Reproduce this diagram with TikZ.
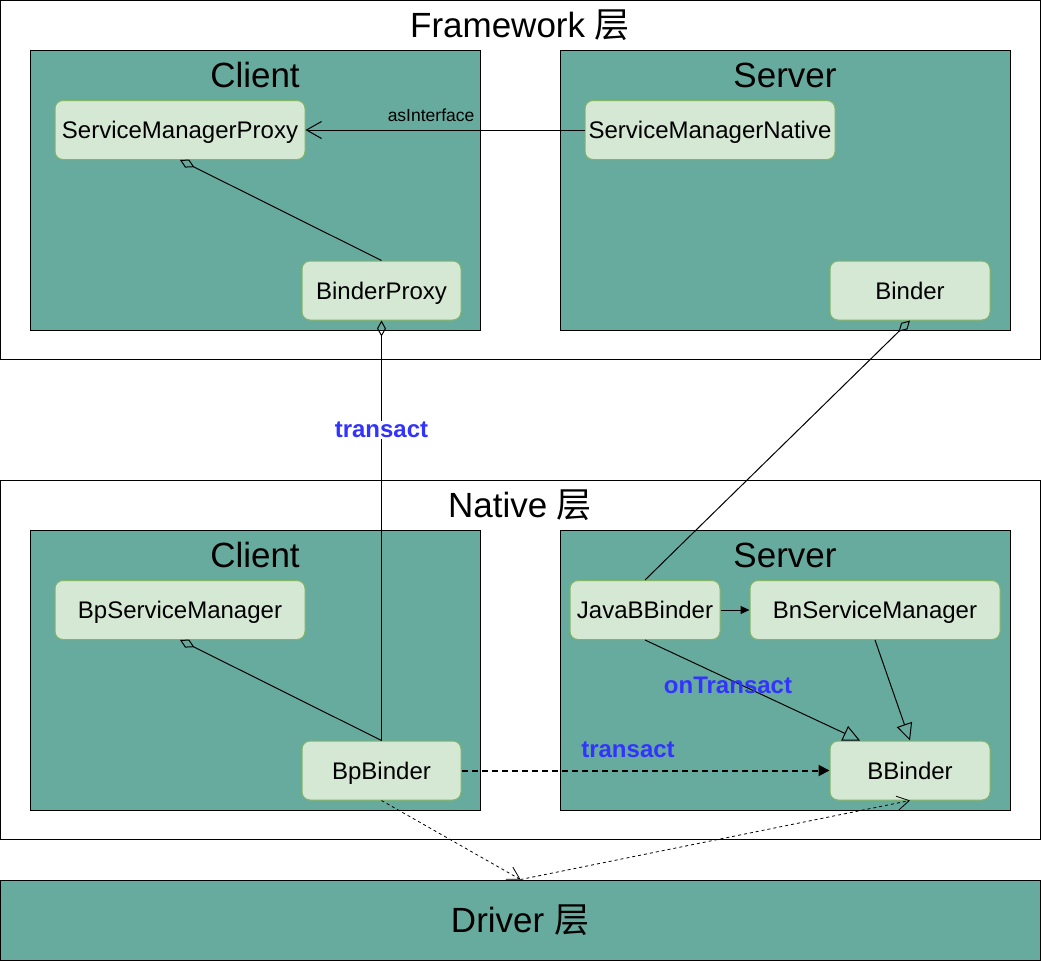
\documentclass[tikz,border=0pt]{standalone}
\usepackage{fontspec}
\setmainfont{Liberation Sans}
\newfontfamily\cjk{Noto Sans CJK SC}
\usetikzlibrary{arrows.meta,calc}
\definecolor{tealfill}{HTML}{67AB9F}
\definecolor{nfill}{HTML}{D5E8D4}
\definecolor{nline}{HTML}{82B366}
\definecolor{lblue}{HTML}{3333FF}
\begin{document}
\begin{tikzpicture}[x=1pt,y=-1pt,
  layer/.style={draw=black,line width=1pt,fill=white,inner sep=0pt},
  frame/.style={draw=black,line width=1pt,fill=tealfill,inner sep=0pt,minimum width=450pt,minimum height=280pt},
  title/.style={font=\fontsize{35}{40}\selectfont,inner sep=0pt},
  cls/.style={draw=nline,line width=1pt,fill=nfill,rounded corners=8pt,minimum height=59pt,inner sep=0pt,
    text height=21pt,text depth=4pt,font=\fontsize{24}{28}\selectfont},
  conn/.style={line width=1pt,black},
  openarrow/.style={conn,-{Straight Barb[length=15pt,width=17pt,line width=1pt]}},
  dia/.style={conn,-{Diamond[open,length=16pt,width=9pt,line width=1pt]}},
  inh/.style={conn,-{Triangle[open,length=17pt,width=16pt,line width=1pt]}},
  blab/.style={font=\fontsize{24}{28}\selectfont\bfseries,text=lblue,inner sep=1pt}
]
\useasboundingbox (0,0) rectangle (1041,961);

% Framework layer
\node[layer,minimum width=1040pt,minimum height=359pt] (fw) at (520.5,180) {};
\node[title] (fwt) at (520,25) {Framework {\cjk 层}};
\node[frame] (fwc) at (255,190) {};
\node[title] (fwct) at (255,75) {Client};
\node[frame] (fws) at (785,190) {};
\node[title] (fwst) at (785,75) {Server};

% Native layer
\node[layer,minimum width=1040pt,minimum height=359pt] (nt) at (520.5,660) {};
\node[title] (ntt) at (520,505) {Native {\cjk 层}};
\node[frame] (ntc) at (255,670) {};
\node[title] (ntct) at (255,555) {Client};
\node[frame] (nts) at (785,670) {};
\node[title] (ntst) at (785,555) {Server};

% Driver layer
\node[draw=black,line width=1pt,fill=tealfill,minimum width=1040pt,minimum height=80pt,inner sep=0pt] (drv) at (520.5,920) {};
\node[title] (drvt) at (520,920) {Driver {\cjk 层}};

% Classes
\node[cls,minimum width=250pt] (smp) at (180,130) {ServiceManagerProxy};
\node[cls,minimum width=250pt] (smn) at (710,130) {ServiceManagerNative};
\node[cls,minimum width=159pt] (bpx) at (381.5,290.5) {BinderProxy};
\node[cls,minimum width=160pt] (bnd) at (910,290.5) {Binder};
\node[cls,minimum width=250pt] (bpsm) at (180,610) {BpServiceManager};
\node[cls,minimum width=150pt] (jbb) at (645,610) {JavaBBinder};
\node[cls,minimum width=250pt] (bnsm) at (875,610) {BnServiceManager};
\node[cls,minimum width=159pt] (bpb) at (381.5,770.5) {BpBinder};
\node[cls,minimum width=160pt] (bb) at (910,770.5) {BBinder};

% Connectors
\draw[openarrow] (smn.west) -- (smp.east)
  node[pos=0.55,above=8pt,font=\fontsize{17.5}{20}\selectfont,inner sep=0pt] (lai) {asInterface};
\draw[dia] (bpx.north) -- (smp.south);
\draw[dia] (bpb.north) -- (bpx.south)
  node[pos=0.74,blab,fill=white] (ltr1) {transact};
\draw[dia] (jbb.north) -- (bnd.south);
\draw[dia] (bpb.north) -- (bpsm.south);
\draw[conn,-{Triangle[length=9pt,width=8pt]}] (jbb.east) -- (bnsm.west);
\draw[inh] (jbb.south) -- ($(bb.north)+(-50,0)$);
\draw[inh] (bnsm.south) -- (bb.north);
\node[blab] (lon) at (728,685) {onTransact};
\draw[line width=2pt,dash pattern=on 6pt off 4pt,-{Triangle[length=11pt,width=11pt]}] (bpb.east) -- (bb.west);
\node[blab] (ltr2) at (628,750) {transact};
\draw[line width=0.8pt,dash pattern=on 3pt off 3pt,-{Straight Barb[length=12pt,width=14pt,line width=0.8pt]}] (bpb.south) -- (drv.north);
\draw[line width=0.8pt,dash pattern=on 3pt off 3pt,-{Straight Barb[length=12pt,width=14pt,line width=0.8pt]}] (drv.north) -- (bb.south);
\end{tikzpicture}
\end{document}
